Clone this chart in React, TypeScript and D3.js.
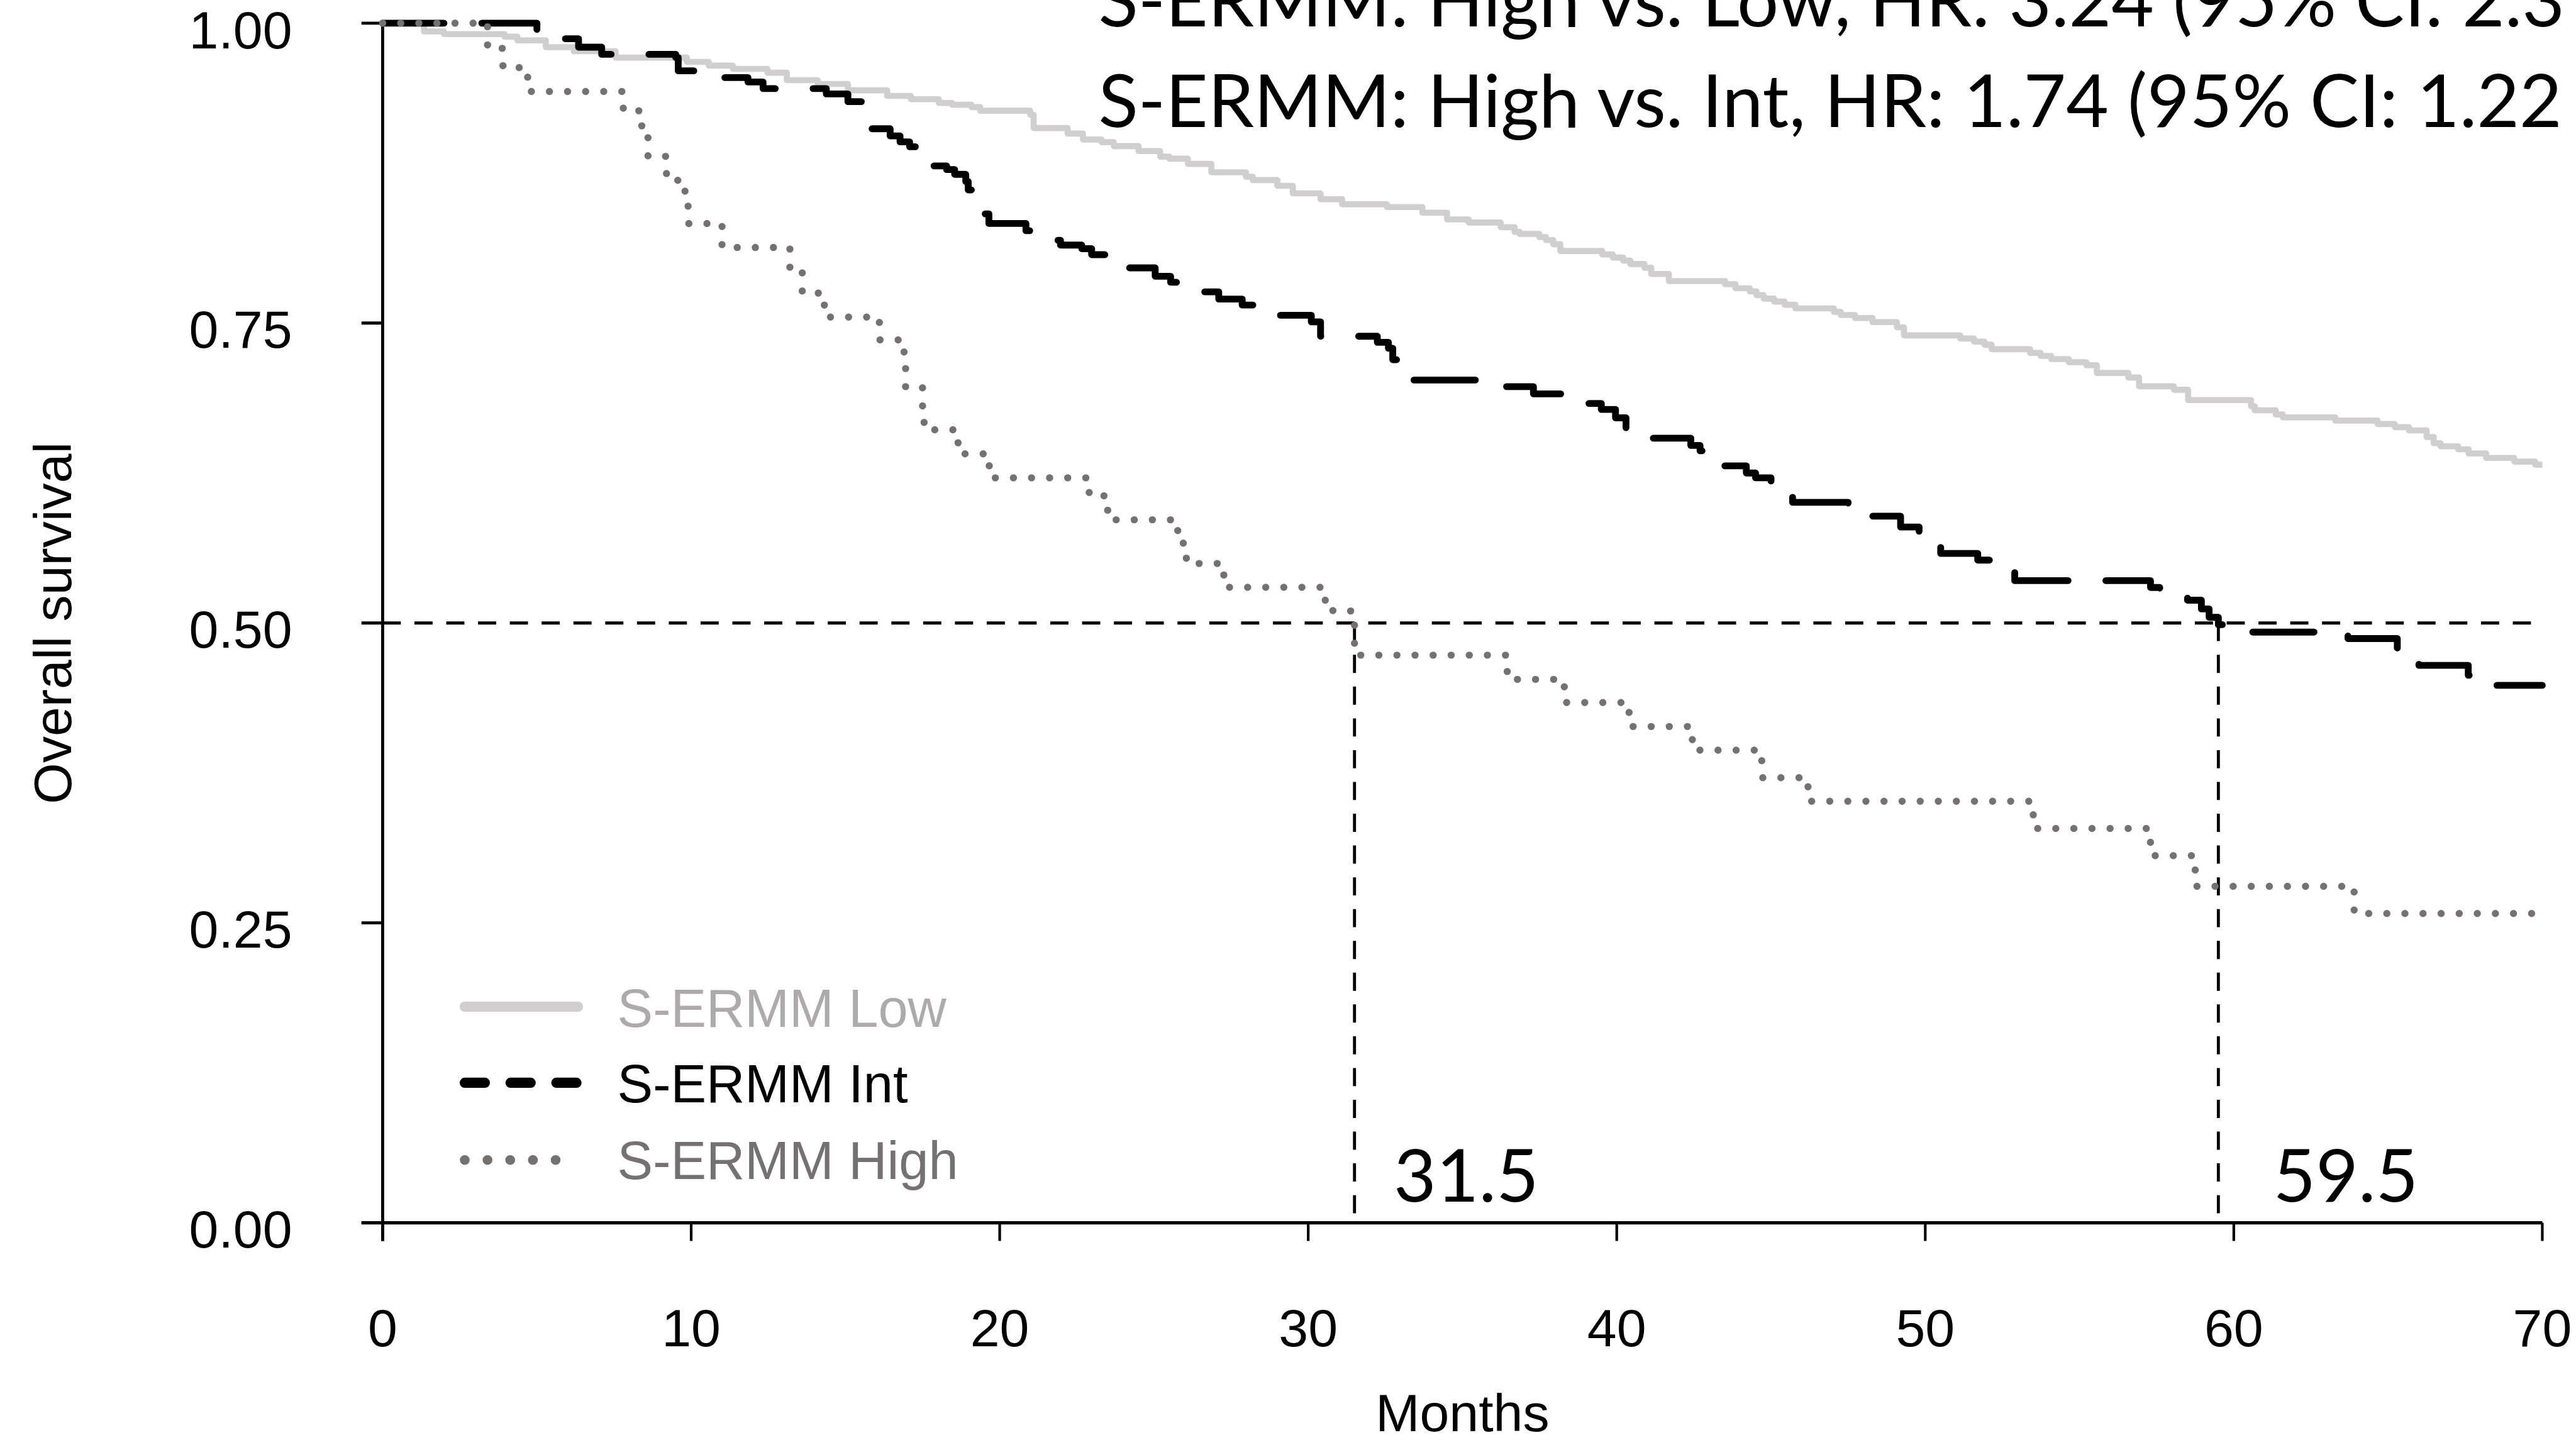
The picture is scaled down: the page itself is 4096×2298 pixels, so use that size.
import React, { useLayoutEffect, useRef, useState } from "react";
import * as d3 from "d3";

// ---------- data ----------
const xTicks = [0, 10, 20, 30, 40, 50, 60, 70];
const yTicks = [0, 0.25, 0.5, 0.75, 1.0];
const yTickLabels = ["0.00", "0.25", "0.50", "0.75", "1.00"];

const lowTimes = [1.34, 1.98, 3.95, 4.37, 5.29, 6.2, 7.55, 9.86, 10.57, 11.35, 12.47, 13.1, 14.1, 15.08, 16.35, 17.12, 18.03, 18.45, 19.09, 19.37, 20.99, 21.1, 22.2, 22.7, 23.3, 23.7, 24.5, 25.2, 25.5, 26.1, 26.86, 27.98, 28.2, 29.0, 29.5, 30.4, 31.1, 32.55, 33.7, 34.5, 35.2, 36.24, 36.69, 36.85, 37.49, 37.71, 37.94, 38.17, 39.53, 39.87, 40.21, 40.44, 40.9, 41.12, 41.69, 43.51, 43.85, 44.31, 44.53, 44.76, 45.1, 45.44, 45.79, 47.04, 47.26, 47.72, 48.29, 49.08, 49.31, 51.13, 51.58, 51.92, 52.15, 53.4, 53.74, 54.08, 54.65, 55.22, 55.56, 56.58, 56.93, 58.06, 58.52, 60.56, 60.68, 61.36, 61.59, 63.29, 64.66, 65.22, 65.68, 66.25, 66.48, 66.7, 67.27, 67.61, 68.18, 69.09, 69.77];
const lowSurv = [0.9931, 0.9909, 0.9887, 0.9856, 0.98, 0.9766, 0.9713, 0.9677, 0.9646, 0.9619, 0.9587, 0.9525, 0.9493, 0.944, 0.9394, 0.9366, 0.9335, 0.932, 0.93, 0.927, 0.9236, 0.9126, 0.908, 0.903, 0.9008, 0.8975, 0.8934, 0.8887, 0.887, 0.8827, 0.8757, 0.872, 0.8692, 0.8644, 0.8581, 0.8532, 0.849, 0.8467, 0.842, 0.8364, 0.8338, 0.8299, 0.826, 0.8243, 0.8217, 0.8192, 0.8157, 0.8101, 0.8072, 0.8046, 0.8021, 0.7992, 0.7961, 0.7909, 0.785, 0.7824, 0.779, 0.7764, 0.7733, 0.7704, 0.7679, 0.7653, 0.7622, 0.7593, 0.7567, 0.7542, 0.7508, 0.7465, 0.7397, 0.7371, 0.7345, 0.732, 0.7282, 0.7251, 0.7226, 0.72, 0.7174, 0.7149, 0.7084, 0.7046, 0.6973, 0.6944, 0.6858, 0.6807, 0.6773, 0.6738, 0.6714, 0.6687, 0.6658, 0.6632, 0.6605, 0.655, 0.6499, 0.6473, 0.6448, 0.6413, 0.6376, 0.6345, 0.632];

const intTimes = [5.0, 5.8, 6.35, 7.1, 9.5, 9.58, 11.0, 11.84, 12.33, 14.38, 15.08, 15.7, 15.85, 16.45, 16.77, 17.08, 17.5, 17.75, 18.28, 18.54, 18.9, 18.98, 19.3, 19.5, 19.65, 20.85, 21.6, 21.97, 22.66, 22.98, 23.8, 25.04, 25.54, 26.2, 27.1, 27.86, 28.6, 30.1, 30.4, 32.24, 32.6, 32.74, 33.3, 36.2, 37.3, 39.0, 39.5, 39.96, 40.3, 41.0, 42.4, 42.7, 43.4, 44.2, 44.5, 45.0, 45.7, 47.5, 48.2, 49.2, 49.8, 50.5, 51.7, 52.9, 57.3, 57.6, 58.5, 58.95, 59.2, 59.5, 60.4, 63.7, 65.3, 66.0, 67.6, 68.5];
const intSurv = [0.994, 0.987, 0.98, 0.974, 0.9714, 0.9603, 0.9546, 0.951, 0.9455, 0.941, 0.9346, 0.923, 0.912, 0.906, 0.901, 0.897, 0.889, 0.881, 0.878, 0.874, 0.868, 0.861, 0.853, 0.841, 0.833, 0.827, 0.819, 0.815, 0.812, 0.807, 0.796, 0.789, 0.784, 0.776, 0.77, 0.765, 0.7565, 0.751, 0.739, 0.734, 0.729, 0.7195, 0.7025, 0.697, 0.691, 0.683, 0.678, 0.671, 0.66, 0.654, 0.648, 0.6435, 0.631, 0.625, 0.621, 0.612, 0.6006, 0.594, 0.589, 0.58, 0.574, 0.558, 0.5524, 0.5353, 0.5296, 0.5237, 0.519, 0.5117, 0.5047, 0.4986, 0.4924, 0.487, 0.471, 0.4647, 0.4564, 0.448];

const highTimes = [3.4, 3.9, 4.7, 7.8, 8.4, 8.6, 9.2, 9.8, 9.9, 11.0, 13.2, 13.6, 14.3, 14.4, 16.1, 16.9, 16.95, 17.5, 17.55, 18.65, 19.65, 19.75, 22.9, 23.5, 25.7, 25.95, 26.05, 27.2, 27.4, 30.5, 30.8, 31.5, 36.45, 38.3, 40.4, 42.45, 44.7, 46.2, 53.5, 57.3, 58.75, 63.9];
const highSurv = [0.979, 0.963, 0.943, 0.927, 0.905, 0.889, 0.869, 0.851, 0.833, 0.813, 0.793, 0.775, 0.765, 0.755, 0.736, 0.716, 0.696, 0.68, 0.661, 0.641, 0.631, 0.621, 0.606, 0.586, 0.577, 0.566, 0.5496, 0.54, 0.5297, 0.519, 0.51, 0.4732, 0.453, 0.4337, 0.4137, 0.394, 0.371, 0.3514, 0.3287, 0.306, 0.2805, 0.2578];

const medianTimes = [31.5, 59.5];
const medianLabels = ["31.5", "59.5"];
const medianLevel = 0.5;
const hrLines = [
  "S-ERMM: High vs. Low, HR: 3.24 (95% CI: 2.3",
  "S-ERMM: High vs. Int, HR: 1.74 (95% CI: 1.22",
];
const seriesNames = ["S-ERMM Low", "S-ERMM Int", "S-ERMM High"];
const xTitle = "Months";
const yTitle = "Overall survival";

// ---------- layout / style ----------
const W = 6806;
const H = 3818;
const ARIAL = "'Liberation Sans', Arial, Helvetica, sans-serif";
const CAL = "Lato, 'Open Sans', sans-serif";
const LOW_C = "#d0cece";
const LOW_TXT = "#aeaaaa";
const HIGH_C = "#767171";

function toPts(times: number[], surv: number[], end: number): [number, number][] {
  const pts: [number, number][] = [[0, 1]];
  times.forEach((t, i) => pts.push([t, surv[i]]));
  pts.push([end, surv[surv.length - 1]]);
  return pts;
}

export default function App() {
  const x = d3.scaleLinear().domain([0, 70]).range([1011, 6717]);
  const y = d3.scaleLinear().domain([0, 1]).range([3231, 61]);
  const step = d3
    .line<[number, number]>()
    .x((d) => x(d[0]))
    .y((d) => y(d[1]))
    .curve(d3.curveStepAfter);

  const lowPath = step(toPts(lowTimes, lowSurv, 70)) || "";
  const intPath = step(toPts(intTimes, intSurv, 70)) || "";
  const highPath = step(toPts(highTimes, highSurv, 70)) || "";

  const refText = useRef<SVGTextElement>(null);
  const [calSize, setCalSize] = useState(194);
  useLayoutEffect(() => {
    const fit = () => {
      const el = refText.current;
      if (!el) return;
      const cur = parseFloat(el.getAttribute("font-size") || "194");
      const len = el.getComputedTextLength();
      if (len > 0) {
        const target = 3934;
        const s = (cur * target) / len;
        setCalSize(Math.round(s * 10) / 10);
      }
    };
    fit();
    if ((document as any).fonts && (document as any).fonts.ready) {
      (document as any).fonts.ready.then(fit);
    }
  }, []);

  const legX0 = 1228;
  const legX1 = 1527;
  const legY = [2660, 2861, 3065];
  const legTextX = 1631;
  const legTextY = [2714, 2913, 3116];

  return (
    <>
      <style>{`html,body{margin:0;padding:0;background:#fff;overflow:hidden}`}</style>
      <svg
        width={4096}
        height={2298}
        viewBox={`0 0 ${W} ${H}`}
        style={{ display: "block", background: "#fff" }}
      >
        <rect x={0} y={0} width={W} height={H} fill="#fff" />

        {/* median reference lines */}
        <g stroke="#000" strokeWidth={8} strokeDasharray="48 36" fill="none">
          <line x1={x(0)} x2={x(70)} y1={y(medianLevel)} y2={y(medianLevel)} />
          {medianTimes.map((t) => (
            <line key={t} x1={x(t)} x2={x(t)} y1={y(medianLevel)} y2={y(0)} />
          ))}
        </g>

        {/* axes */}
        <g stroke="#000" fill="none" strokeLinecap="butt">
          <line x1={x(0)} x2={x(0)} y1={y(1)} y2={y(0) + 48} strokeWidth={8} />
          <line x1={x(0) - 56} x2={x(70)} y1={y(0)} y2={y(0)} strokeWidth={9} />
          {yTicks.map((v) => (
            <line key={"yt" + v} x1={x(0) - 56} x2={x(0)} y1={y(v)} y2={y(v)} strokeWidth={8} />
          ))}
          {xTicks.map((v) => (
            <line key={"xt" + v} x1={x(v)} x2={x(v)} y1={y(0)} y2={y(0) + 48} strokeWidth={7} />
          ))}
        </g>

        {/* tick labels */}
        <g fontFamily={ARIAL} fontSize={140} fill="#000">
          {yTicks.map((v, i) => (
            <text key={"yl" + v} x={772} y={y(v) + 66} textAnchor="end">
              {yTickLabels[i]}
            </text>
          ))}
          {xTicks.map((v) => (
            <text key={"xl" + v} x={x(v)} y={3558} textAnchor="middle">
              {String(v)}
            </text>
          ))}
          <text x={(x(0) + x(70)) / 2} y={3781} textAnchor="middle">
            {xTitle}
          </text>
          <text
            transform={`translate(188, ${(y(0) + y(1)) / 2}) rotate(-90)`}
            textAnchor="middle"
          >
            {yTitle}
          </text>
        </g>

        {/* curves */}
        <path d={lowPath} fill="none" stroke={LOW_C} strokeWidth={16} strokeLinejoin="round" />
        <path
          d={intPath}
          fill="none"
          stroke="#000"
          strokeWidth={18}
          strokeDasharray="162 100"
          strokeLinecap="round"
          strokeLinejoin="round"
        />
        <path
          d={highPath}
          fill="none"
          stroke={HIGH_C}
          strokeWidth={19}
          strokeDasharray="0 47.8"
          strokeLinecap="round"
        />

        {/* legend */}
        <g fill="none">
          <line x1={legX0} x2={legX1} y1={legY[0]} y2={legY[0]} stroke={LOW_C} strokeWidth={27} strokeLinecap="round" />
          <line x1={legX0} x2={legX0 + 295} y1={legY[1]} y2={legY[1]} stroke="#000" strokeWidth={27} strokeLinecap="round" strokeDasharray="53 68" />
          <line x1={legX0} x2={legX0 + 300} y1={legY[2]} y2={legY[2]} stroke={HIGH_C} strokeWidth={26} strokeLinecap="round" strokeDasharray="0 60" />
        </g>
        <g fontFamily={ARIAL} fontSize={141}>
          <text x={legTextX} y={legTextY[0]} fill={LOW_TXT}>{seriesNames[0]}</text>
          <text x={legTextX} y={legTextY[1]} fill="#000">{seriesNames[1]}</text>
          <text x={legTextX} y={legTextY[2]} fill={HIGH_C}>{seriesNames[2]}</text>
        </g>

        {/* annotations */}
        <g fontFamily={CAL} fontSize={calSize} fill="#000">
          <text x={2902} y={70}>{hrLines[0]}</text>
          <text ref={refText} x={2902} y={336}>{hrLines[1]}</text>
          <text x={3682} y={3176}>{medianLabels[0]}</text>
          <text x={6006} y={3176}>{medianLabels[1]}</text>
        </g>
      </svg>
    </>
  );
}
